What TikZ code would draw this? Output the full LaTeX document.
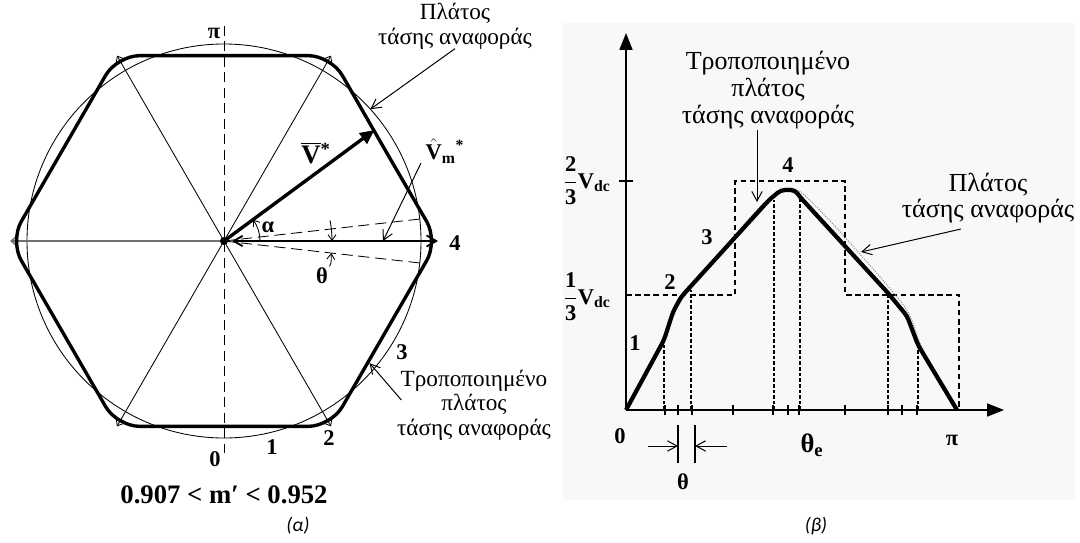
\documentclass[tikz,border=0pt]{standalone}
\usepackage{amsmath}
\usepackage{fontspec}
\setmainfont{Liberation Serif}
\newfontfamily\capfont{Carlito}
\usepackage{tikz}
\usetikzlibrary{arrows.meta,positioning,calc}
\definecolor{svgray}{HTML}{707070}
\definecolor{svpaper}{HTML}{F8F8F8}
\tikzset{
  refLabel/.style={font=\fontsize{16.5}{17.5}\selectfont, align=center, inner sep=1pt},
  refLabelB/.style={font=\fontsize{18.5}{19}\selectfont, align=center, inner sep=1pt},
  numLabel/.style={font=\fontsize{16}{18}\selectfont\bfseries, inner sep=1pt},
  bigLabel/.style={font=\fontsize{19}{21}\selectfont\bfseries, inner sep=1pt},
  capLabel/.style={font=\fontsize{14}{16}\selectfont\capfont\itshape, inner sep=1pt},
  leadArrow/.style={-{Straight Barb[length=2.4mm,width=2.6mm]}, line width=0.7pt},
  thinLine/.style={line width=0.6pt},
  modPath/.style={line width=2.4pt, line join=round},
  axisArrow/.style={-{Triangle[length=4.2mm,width=3.2mm]}, line width=1.4pt},
  stairLine/.style={line width=1.1pt, dash pattern=on 4pt off 2.5pt},
  dropLine/.style={line width=0.9pt, dash pattern=on 2.5pt off 1.5pt}
}

\begin{document}
\begin{tikzpicture}[x=0.025cm,y=0.025cm]
  \useasboundingbox (0,0) rectangle (1080,542);
  \fill[svpaper] (563,42) rectangle (1075,519);

  % (a) hexagon and reference circle
  \begin{scope}[shift={(224,301)}]
    \coordinate (ctr) at (0,0);
    \coordinate (ctrR) at (8,0);
    \foreach \a in {0,60,...,300} \coordinate (hx\a) at (\a:214);
    \coordinate (hxMid) at (30:185);
    \draw[thinLine] (ctr) circle (197);
    \foreach \a/\b in {60/240,120/300}
      \draw[thinLine, {Straight Barb[length=1.2mm,width=2mm]}-{Straight Barb[length=1.2mm,width=2mm]}] (hx\a) -- (hx\b);
    \draw[svgray, line width=1pt, {Straight Barb[length=1.2mm,width=2mm]}-] (hx180) -- (ctr);
    \draw[line width=1.3pt, {Straight Barb[length=2.2mm,width=2.6mm]}-{Straight Barb[length=2.4mm,width=2.8mm]}] (ctrR) -- (hx0);
    \draw[modPath, rounded corners=16pt] (hxMid) -- (hx60) -- (hx120) -- (hx180) -- (hx240) -- (hx300) -- (hx0) -- cycle;
    \coordinate (piTop) at (0,215);
    \coordinate (zeroBot) at (0,-218);
    \draw[thinLine, dash pattern=on 7pt off 4pt] (piTop) -- (zeroBot);
    \coordinate (thUp) at (6.4:197);
    \coordinate (thDn) at (-6.4:197);
    \draw[thinLine, dash pattern=on 8pt off 4pt] (ctr) -- (thUp);
    \draw[thinLine, dash pattern=on 8pt off 4pt] (ctr) -- (thDn);
    \draw[thinLine, -{Straight Barb[length=1.4mm,width=2mm]}] (11:108) arc[start angle=11, end angle=0, radius=108];
    \coordinate (thLow) at (-6.4:108);
    \draw[thinLine, -{Straight Barb[length=1.4mm,width=2mm]}] (0:36) arc[start angle=0, end angle=36.4, radius=36];
    \coordinate (vTip) at (36.4:187);
    \draw[line width=2.4pt, -{Triangle[length=3.6mm,width=3.2mm]}] (ctr) -- (vTip);
    \fill (ctr) circle (4);
    \coordinate (ampTip) at (42:197);
    \coordinate (modTip) at (-40:190);
    \coordinate (vmTip) at (159,0);
  \end{scope}

  \node[numLabel] (lPi) at (214,509) {π};
  \node[numLabel] (lZero) at (215,83) {0};
  \node[numLabel] (lOne) at (272,95) {1};
  \node[numLabel] (lTwo) at (329,104) {2};
  \node[numLabel] (lThree) at (402,190) {3};
  \node[numLabel] (lFour) at (455,299) {4};
  \node[numLabel] (alLab) at (268,315) {α};
  \node[numLabel] (thLab) at (322,266) {θ};
  \node[bigLabel] (vecLab) at (316,389) {$\overline{\text{V}}$\textsuperscript{*}};
  \node[numLabel] (vmLab) at (445,391) {$\hat{\text{V}}$\textsubscript{m}\textsuperscript{*}};
  \node[refLabel] (ampLab) at (455,516) {Πλάτος\\τάσης αναφοράς};
  \node[refLabel] (modLab) at (474,137) {Τροποποιημένο\\πλάτος\\τάσης αναφοράς};
  \node[bigLabel] (mRange) at (224,47) {0.907 < m′ < 0.952};
  \node[capLabel] (capA) at (298,16) {(α)};
  \draw[thinLine, -{Straight Barb[length=1.4mm,width=2mm]}] (thLab.north east) to[out=60, in=-95] (thLow);
  \draw[leadArrow] ($(ampLab.south)+(0,2)$) -- (ampTip);
  \draw[leadArrow] ($(modLab.west)+(6,5)$) -- (modTip);
  \draw[leadArrow] ($(vmLab.south west)+(-3,2)$) -- (vmTip);

  % (b) one half period
  \begin{scope}[shift={(626,132)}]
    \coordinate (org) at (0,0);
    \coordinate (yEnd) at (0,377);
    \coordinate (xEnd) at (378,0);
    \draw[stairLine] (0,115) -- (109,115) -- (109,229) -- (219,229) -- (219,115) -- (333,115) -- (333,0);
    \foreach \x/\h in {38/70, 65/120, 148/210, 174/214, 262/117, 292/65}
      \draw[dropLine] (\x,0) -- (\x,\h);
    \draw[densely dotted, gray, line width=0.7pt] plot[smooth, tension=0.6] coordinates {(0,0) (20,39) (38,73) (50,100) (64,121) (100,164) (130,199) (150,217) (163,222) (177,216) (205,188) (240,149) (266,119) (283,96) (296,62) (315,28) (331,0)};
    \draw[line width=3pt, line join=round, rounded corners=3pt] (0,0) -- (38,70) -- (47,98) -- (55,113) -- (143,210) -- (155,220) -- (169,220) -- (174,213) -- (262,117) -- (281,94) -- (292,65) -- (331,0);
    \foreach \x in {39,52,66,107,147,162,173,219,262,276,291}
      \draw[line width=1pt] (\x,-5) -- (\x,5);
    \draw[line width=1pt] (-7,229) -- (7,229);
    \draw[axisArrow] (org) -- (yEnd);
    \draw[axisArrow] (org) -- (xEnd);
    \draw[line width=0.9pt] (52,-15) -- (52,-53);
    \draw[line width=0.9pt] (69,-15) -- (69,-53);
    \coordinate (dimL) at (22,-36);
    \coordinate (dimLt) at (52,-36);
    \coordinate (dimR) at (101,-36);
    \coordinate (dimRt) at (69,-36);
    \draw[leadArrow] (dimL) -- (dimLt);
    \draw[leadArrow] (dimR) -- (dimRt);
    \coordinate (modTipR) at (131,208);
    \coordinate (ampTipR) at (235,158);
  \end{scope}

  \node[numLabel] (rZero) at (620,106) {0};
  \node[bigLabel] (rTheta) at (812,97) {θ\textsubscript{e}};
  \node[numLabel] (rPi) at (952,102) {π};
  \node[numLabel] (rOne) at (635,199) {1};
  \node[numLabel] (rTwo) at (670,260) {2};
  \node[numLabel] (rThree) at (707,305) {3};
  \node[numLabel] (rFour) at (788,377) {4};
  \node[numLabel] (dimTh) at (683,60) {θ};
  \node[numLabel] (lvlTwo) at (587,361) {$\dfrac{\text{2}}{\text{3}}$V\textsubscript{dc}};
  \node[numLabel] (lvlOne) at (587,245) {$\dfrac{\text{1}}{\text{3}}$V\textsubscript{dc}};
  \node[refLabelB] (modTop) at (768,452) {Τροποποιημένο\\πλάτος\\τάσης αναφοράς};
  \node[refLabelB] (ampRight) at (988,344) {Πλάτος\\τάσης αναφοράς};
  \node[capLabel] (capB) at (816,16) {(β)};
  \draw[leadArrow] ($(modTop.south)+(-11,0)$) -- (modTipR);
  \draw[leadArrow] ($(ampRight.south)+(-27,-4)$) -- (ampTipR);
\end{tikzpicture}
\end{document}
